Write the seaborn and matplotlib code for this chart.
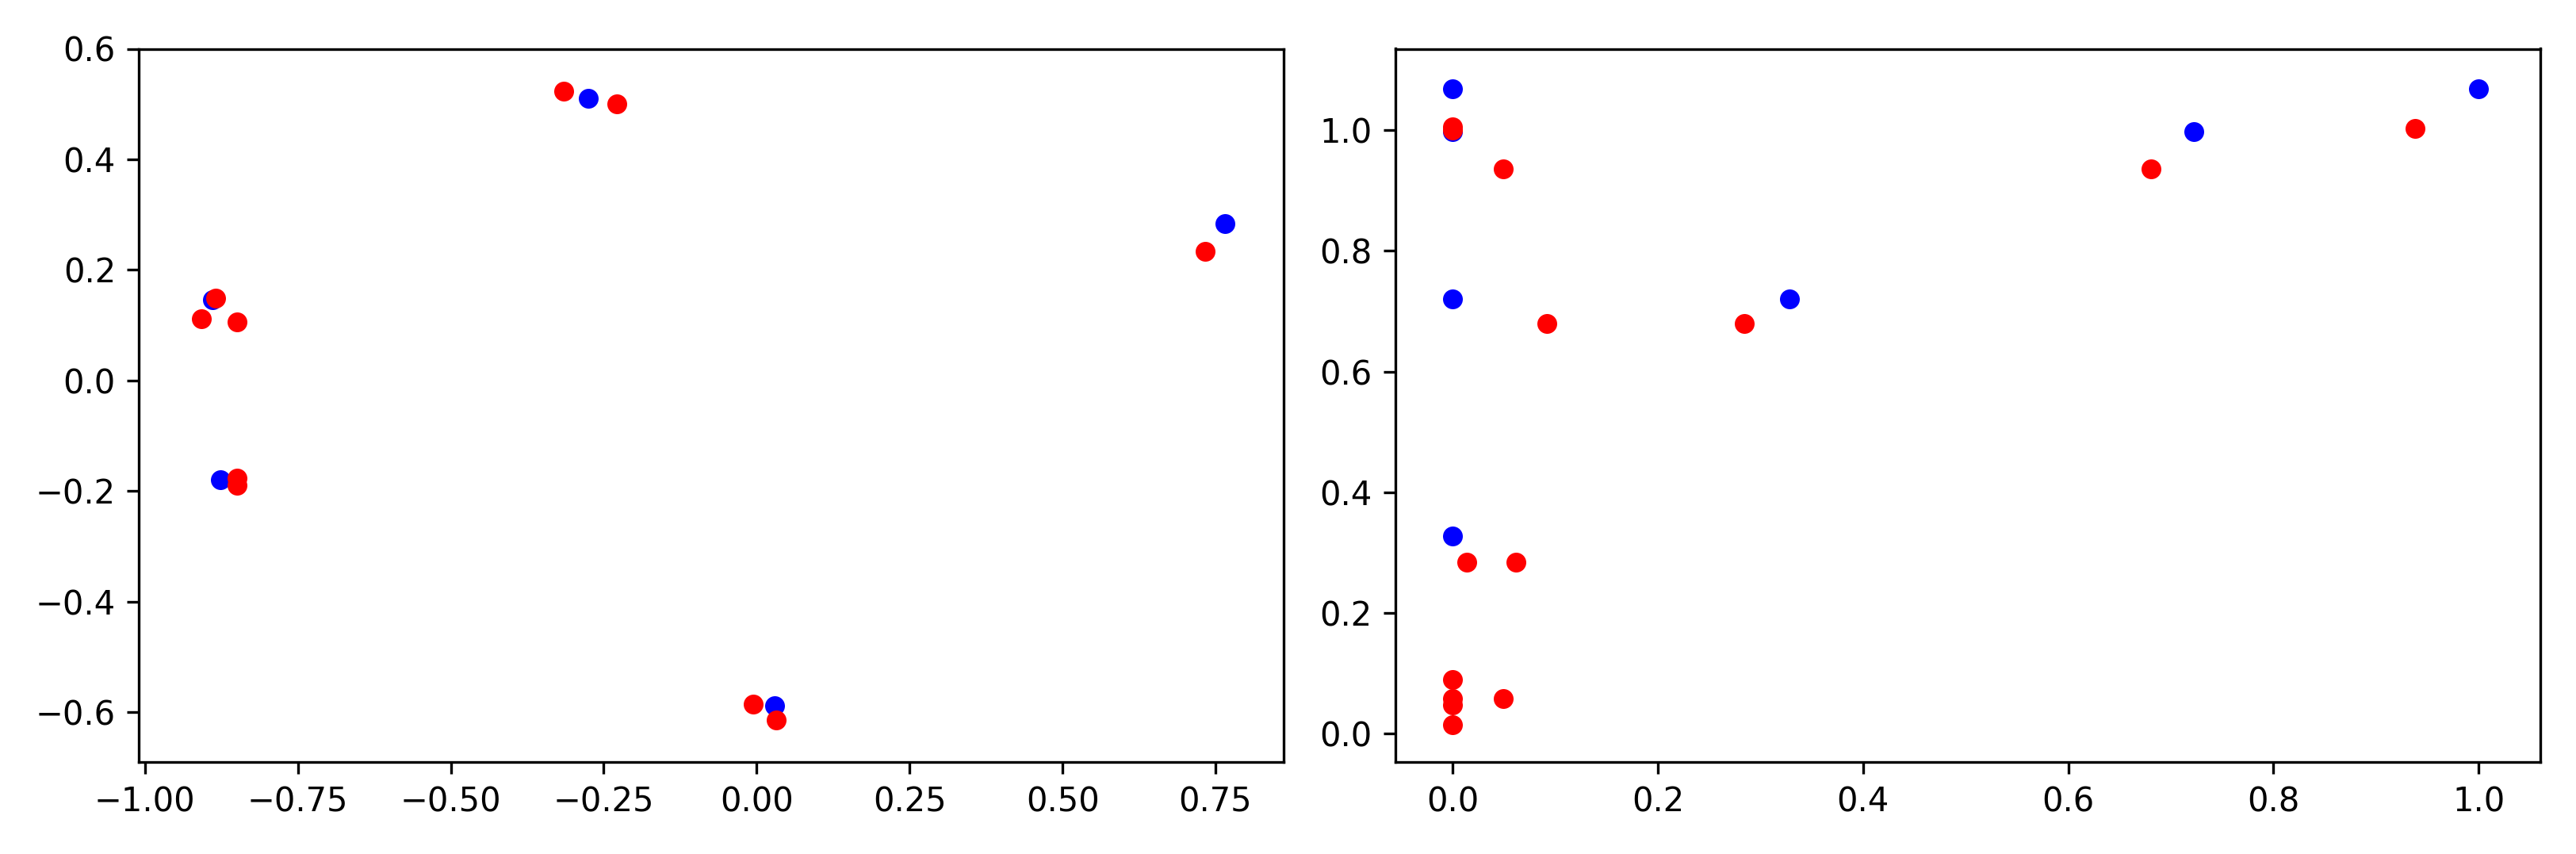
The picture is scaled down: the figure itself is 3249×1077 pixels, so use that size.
import matplotlib
matplotlib.use("Agg")
import matplotlib.pyplot as plt
import seaborn as sns

# left panel: blue and red point sets
left_blue_x = [-0.275, 0.765, -0.889, -0.876, 0.030]
left_blue_y = [0.511, 0.283, 0.146, -0.180, -0.589]
left_red_x = [-0.315, -0.229, 0.733, -0.884, -0.908, -0.849, -0.849, -0.849, -0.005, 0.032]
left_red_y = [0.523, 0.500, 0.234, 0.149, 0.111, 0.106, -0.177, -0.189, -0.586, -0.614]

# right panel
right_blue_x = [0.0, 0.0, 0.0, 0.328, 0.722, 1.0, 0.0]
right_blue_y = [1.068, 0.998, 0.720, 0.720, 0.998, 1.068, 0.328]
right_red_x = [0.0, 0.0, 0.049, 0.092, 0.284, 0.681, 0.938, 0.014, 0.062,
               0.0, 0.0, 0.0, 0.049, 0.0]
right_red_y = [1.000, 1.005, 0.936, 0.680, 0.680, 0.936, 1.003, 0.284, 0.284,
               0.089, 0.058, 0.047, 0.058, 0.014]

fig, axes = plt.subplots(1, 2, figsize=(10.83, 3.59))

ax = axes[0]
sns.scatterplot(x=left_blue_x, y=left_blue_y, color='blue', s=36, linewidth=0, ax=ax)
sns.scatterplot(x=left_red_x, y=left_red_y, color='red', s=36, linewidth=0, ax=ax)
ax.set_xlim(-1.01, 0.862)
ax.set_ylim(-0.69, 0.6)

ax = axes[1]
sns.scatterplot(x=right_blue_x, y=right_blue_y, color='blue', s=36, linewidth=0, ax=ax)
sns.scatterplot(x=right_red_x, y=right_red_y, color='red', s=36, linewidth=0, ax=ax)
ax.set_xlim(-0.056, 1.06)
ax.set_ylim(-0.047, 1.135)

plt.tight_layout()
plt.savefig('out.png', dpi=300)
